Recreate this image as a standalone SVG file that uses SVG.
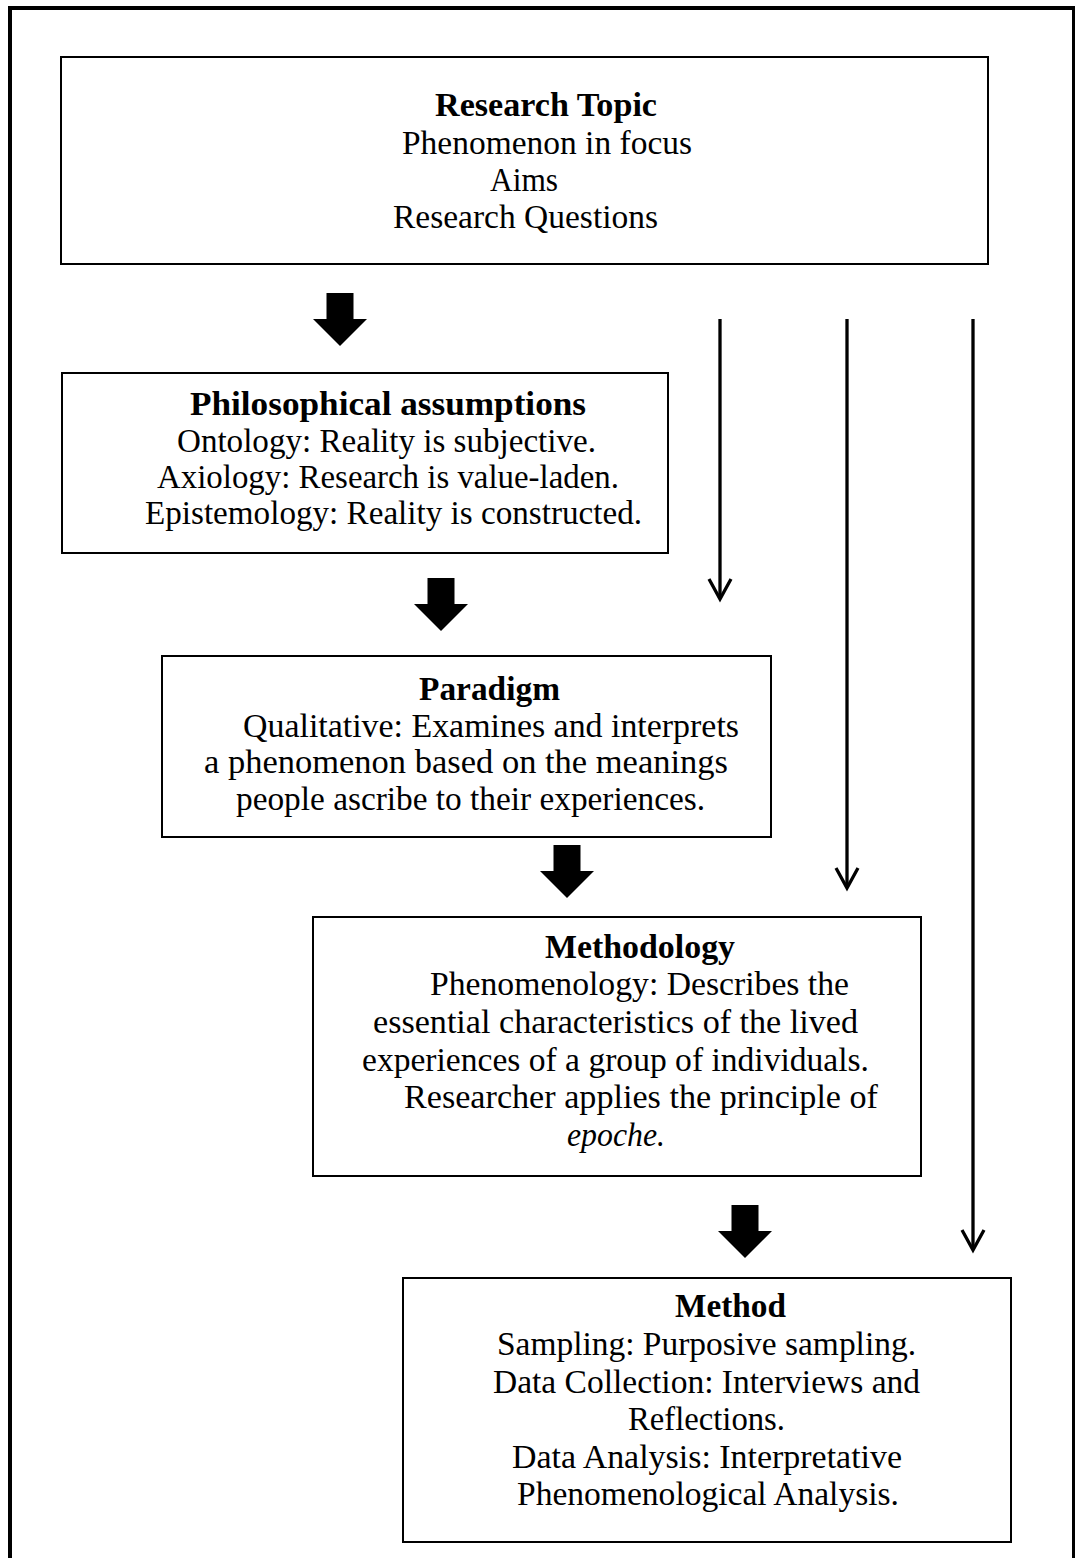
<svg xmlns="http://www.w3.org/2000/svg" width="1075" height="1558" viewBox="0 0 1075 1558">
  <style>
    .frame { fill: none; stroke: #000; stroke-width: 4; }
    .box { fill: #fff; stroke: #000; stroke-width: 2; }
    .t { font-family: "Liberation Serif", "Times New Roman", serif; font-size: 33px; fill: #000; }
    .b { font-weight: bold; }
    .i { font-style: italic; }
    .thick { fill: #000; stroke: none; }
    .thin { fill: none; stroke: #000; stroke-width: 3.3; marker-end: url(#openHead); }
  </style>
  <defs>
    <marker id="openHead" markerUnits="userSpaceOnUse" viewBox="-24 -14 28 28" markerWidth="28" markerHeight="28" refX="0" refY="0" orient="auto">
      <path d="M-20,-11 L0,0 L-20,11" fill="none" stroke="#000" stroke-width="3.3" stroke-linejoin="miter"/>
    </marker>
    <!-- block arrow pointing down, origin at top centre of the shaft -->
    <path id="blockArrow" d="M-13.5,0 H13.5 V26 H27 L0,53 L-27,26 H-13.5 Z"/>
  </defs>

  <!-- page frame, open at the bottom -->
  <path class="frame" d="M10,1562 V8 H1074 V1562"/>

  <g id="connectors">
    <use href="#blockArrow" class="thick" x="340" y="293"/>
    <use href="#blockArrow" class="thick" x="441" y="578"/>
    <use href="#blockArrow" class="thick" x="567" y="845"/>
    <use href="#blockArrow" class="thick" x="745" y="1205"/>
    <line class="thin" x1="720" y1="319" x2="720" y2="599"/>
    <line class="thin" x1="847" y1="319" x2="847" y2="888"/>
    <line class="thin" x1="973" y1="319" x2="973" y2="1250"/>
  </g>

  <g id="research-topic">
    <rect class="box" x="61" y="57" width="927" height="207"/>
    <text class="t b" x="435" y="116" textLength="222" lengthAdjust="spacingAndGlyphs">Research Topic</text>
    <text class="t" x="402" y="154" textLength="290" lengthAdjust="spacingAndGlyphs">Phenomenon in focus</text>
    <text class="t" x="490" y="191" textLength="68" lengthAdjust="spacingAndGlyphs">Aims</text>
    <text class="t" x="393" y="228" textLength="265" lengthAdjust="spacingAndGlyphs">Research Questions</text>
  </g>

  <g id="philosophical-assumptions">
    <rect class="box" x="62" y="373" width="606" height="180"/>
    <text class="t b" x="190" y="415" textLength="396" lengthAdjust="spacingAndGlyphs">Philosophical assumptions</text>
    <text class="t" x="177" y="452" textLength="419" lengthAdjust="spacingAndGlyphs">Ontology: Reality is subjective.</text>
    <text class="t" x="157" y="488" textLength="462" lengthAdjust="spacingAndGlyphs">Axiology: Research is value-laden.</text>
    <text class="t" x="145" y="524" textLength="497" lengthAdjust="spacingAndGlyphs">Epistemology: Reality is constructed.</text>
  </g>

  <g id="paradigm">
    <rect class="box" x="162" y="656" width="609" height="181"/>
    <text class="t b" x="419" y="700" textLength="141" lengthAdjust="spacingAndGlyphs">Paradigm</text>
    <text class="t" x="243" y="737" textLength="496" lengthAdjust="spacingAndGlyphs">Qualitative: Examines and interprets</text>
    <text class="t" x="204" y="773" textLength="524" lengthAdjust="spacingAndGlyphs">a phenomenon based on the meanings</text>
    <text class="t" x="236" y="810" textLength="469" lengthAdjust="spacingAndGlyphs">people ascribe to their experiences.</text>
  </g>

  <g id="methodology">
    <rect class="box" x="313" y="917" width="608" height="259"/>
    <text class="t b" x="545" y="958" textLength="190" lengthAdjust="spacingAndGlyphs">Methodology</text>
    <text class="t" x="430" y="995" textLength="419" lengthAdjust="spacingAndGlyphs">Phenomenology: Describes the</text>
    <text class="t" x="373" y="1033" textLength="485" lengthAdjust="spacingAndGlyphs">essential characteristics of the lived</text>
    <text class="t" x="362" y="1071" textLength="507" lengthAdjust="spacingAndGlyphs">experiences of a group of individuals.</text>
    <text class="t" x="404" y="1108" textLength="474" lengthAdjust="spacingAndGlyphs">Researcher applies the principle of</text>
    <text class="t i" x="567" y="1146" textLength="98" lengthAdjust="spacingAndGlyphs">epoche.</text>
  </g>

  <g id="method">
    <rect class="box" x="403" y="1278" width="608" height="264"/>
    <text class="t b" x="675" y="1317" textLength="111" lengthAdjust="spacingAndGlyphs">Method</text>
    <text class="t" x="497" y="1355" textLength="419" lengthAdjust="spacingAndGlyphs">Sampling: Purposive sampling.</text>
    <text class="t" x="493" y="1393" textLength="427" lengthAdjust="spacingAndGlyphs">Data Collection: Interviews and</text>
    <text class="t" x="628" y="1430" textLength="157" lengthAdjust="spacingAndGlyphs">Reflections.</text>
    <text class="t" x="512" y="1468" textLength="390" lengthAdjust="spacingAndGlyphs">Data Analysis: Interpretative</text>
    <text class="t" x="517" y="1505" textLength="382" lengthAdjust="spacingAndGlyphs">Phenomenological Analysis.</text>
  </g>
</svg>
